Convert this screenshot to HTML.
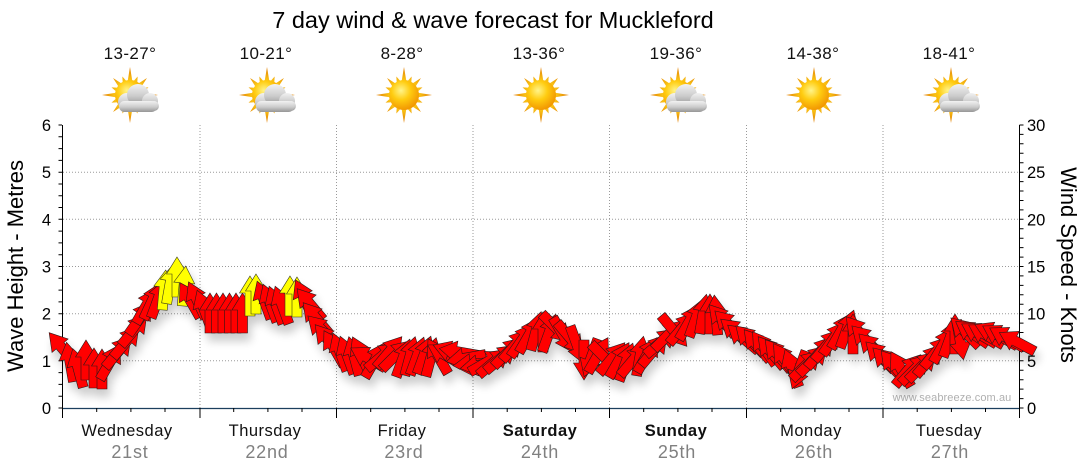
<!DOCTYPE html>
<html><head><meta charset="utf-8"><title>7 day wind &amp; wave forecast for Muckleford</title>
<style>
html,body{margin:0;padding:0;background:#fff;}
svg{display:block;}
text{font-family:"Liberation Sans",Arial,sans-serif;}
</style></head>
<body>
<svg width="1080" height="475" viewBox="0 0 1080 475" xmlns="http://www.w3.org/2000/svg">
<defs>
  <radialGradient id="rayG" cx="0.5" cy="0.5" r="0.5">
    <stop offset="0.45" stop-color="#ffd21a"/>
    <stop offset="1" stop-color="#e07a00"/>
  </radialGradient>
  <radialGradient id="sunG" cx="0.4" cy="0.35" r="0.7">
    <stop offset="0" stop-color="#fff48a"/>
    <stop offset="0.45" stop-color="#ffcc10"/>
    <stop offset="1" stop-color="#f09000"/>
  </radialGradient>
  <linearGradient id="cloudG" x1="0" y1="0" x2="0" y2="1">
    <stop offset="0" stop-color="#f2f2f2"/>
    <stop offset="0.55" stop-color="#cbcbcb"/>
    <stop offset="1" stop-color="#959595"/>
  </linearGradient>
  <g id="sun">
    <polygon fill="url(#rayG)" points="0,-28 2.54,-12.75 7.65,-18.48 7.22,-10.81 16.97,-16.97 10.81,-7.22 18.48,-7.65 12.75,-2.54 28,0 12.75,2.54 18.48,7.65 10.81,7.22 16.97,16.97 7.22,10.81 7.65,18.48 2.54,12.75 0,28 -2.54,12.75 -7.65,18.48 -7.22,10.81 -16.97,16.97 -10.81,7.22 -18.48,7.65 -12.75,2.54 -28,0 -12.75,-2.54 -18.48,-7.65 -10.81,-7.22 -16.97,-16.97 -7.22,-10.81 -7.65,-18.48 -2.54,-12.75"/>
    <circle r="15" fill="url(#sunG)"/>
  </g>
  <g id="cloud">
    <g fill="url(#cloudG)">
      <circle cx="-2" cy="6" r="9"/>
      <circle cx="9" cy="-1" r="11"/>
      <circle cx="21" cy="5" r="8"/>
      <circle cx="25" cy="10" r="5"/>
      <rect x="-10" y="5" width="38" height="11" rx="5.5"/>
    </g>
  </g>
  <polygon id="R" points="0,-20 10.5,-3 5,-3 5,20 -5,20 -5,-3 -10.5,-3" fill="#ff0000" stroke="#2a1a1a" stroke-width="0.6" stroke-linejoin="miter"/>
  <polygon id="Y" points="0,-20 10.5,-3 5,-3 5,20 -5,20 -5,-3 -10.5,-3" fill="#ffff00" stroke="#3a3a1a" stroke-width="0.6" stroke-linejoin="miter"/>
  <filter id="sh" x="-5%" y="-30%" width="110%" height="180%">
    <feGaussianBlur in="SourceAlpha" stdDeviation="4.5"/>
    <feOffset dx="3" dy="8" result="o"/>
    <feComponentTransfer><feFuncA type="linear" slope="0.2"/></feComponentTransfer>
    <feMerge><feMergeNode/><feMergeNode in="SourceGraphic"/></feMerge>
  </filter>
</defs>

<!-- Title -->
<text x="493" y="28" font-size="23.5" text-anchor="middle" fill="#000">7 day wind &amp; wave forecast for Muckleford</text>

<!-- Temps -->
<g font-size="17" text-anchor="middle" fill="#111" letter-spacing="0.4">
  <text x="130" y="59">13-27°</text>
  <text x="266" y="59">10-21°</text>
  <text x="402" y="59">8-28°</text>
  <text x="539" y="59">13-36°</text>
  <text x="676" y="59">19-36°</text>
  <text x="813" y="59">14-38°</text>
  <text x="949" y="59">18-41°</text>
</g>

<!-- Icons -->
<g transform="translate(130,95)"><use href="#sun"/><use href="#cloud" x="-1" y="1"/></g>
<g transform="translate(267,95)"><use href="#sun"/><use href="#cloud" x="-1" y="1"/></g>
<g transform="translate(404,95)"><use href="#sun"/></g>
<g transform="translate(541,95)"><use href="#sun"/></g>
<g transform="translate(678,95)"><use href="#sun"/><use href="#cloud" x="-1" y="1"/></g>
<g transform="translate(814,95)"><use href="#sun"/></g>
<g transform="translate(951,95)"><use href="#sun"/><use href="#cloud" x="-1" y="1"/></g>

<!-- Grid -->
<g stroke="#9a9a9a" stroke-width="1" stroke-dasharray="1,2" fill="none">
  <path d="M63 360.8H1019 M63 313.7H1019 M63 266.5H1019 M63 219.3H1019 M63 172.2H1019"/>
  <path d="M200 125V408 M336.5 125V408 M473 125V408 M609.5 125V408 M746.5 125V408 M883 125V408"/>
</g>

<!-- Left axis -->
<g stroke="#000" stroke-width="1" fill="none">
  <path d="M62.5 125V418"/>
  <path d="M58.5 408H62 M58.5 396.2H62 M58.5 384.4H62 M58.5 372.6H62 M58.5 360.8H62 M58.5 349H62 M58.5 337.2H62 M58.5 325.5H62 M58.5 313.7H62 M58.5 301.9H62 M58.5 290.1H62 M58.5 278.3H62 M58.5 266.5H62 M58.5 254.7H62 M58.5 242.9H62 M58.5 231.1H62 M58.5 219.3H62 M58.5 207.5H62 M58.5 195.7H62 M58.5 184H62 M58.5 172.2H62 M58.5 160.4H62 M58.5 148.6H62 M58.5 136.8H62 M58.5 125H62"/>
</g>
<g font-size="16.5" text-anchor="end" fill="#000">
  <text x="51" y="414">0</text>
  <text x="51" y="366.8">1</text>
  <text x="51" y="319.7">2</text>
  <text x="51" y="272.5">3</text>
  <text x="51" y="225.3">4</text>
  <text x="51" y="178.2">5</text>
  <text x="51" y="131">6</text>
</g>

<!-- Right axis -->
<g stroke="#000" stroke-width="1" fill="none">
  <path d="M1019.5 125V418"/>
  <path d="M1019.5 408H1023.5 M1019.5 398.6H1023.5 M1019.5 389.1H1023.5 M1019.5 379.7H1023.5 M1019.5 370.3H1023.5 M1019.5 360.8H1023.5 M1019.5 351.4H1023.5 M1019.5 342H1023.5 M1019.5 332.5H1023.5 M1019.5 323.1H1023.5 M1019.5 313.7H1023.5 M1019.5 304.2H1023.5 M1019.5 294.8H1023.5 M1019.5 285.4H1023.5 M1019.5 275.9H1023.5 M1019.5 266.5H1023.5 M1019.5 257.1H1023.5 M1019.5 247.6H1023.5 M1019.5 238.2H1023.5 M1019.5 228.8H1023.5 M1019.5 219.3H1023.5 M1019.5 209.9H1023.5 M1019.5 200.5H1023.5 M1019.5 191H1023.5 M1019.5 181.6H1023.5 M1019.5 172.2H1023.5 M1019.5 162.7H1023.5 M1019.5 153.3H1023.5 M1019.5 143.8H1023.5 M1019.5 134.4H1023.5 M1019.5 125H1023.5"/>
</g>
<g font-size="16.5" text-anchor="start" fill="#000">
  <text x="1027" y="414">0</text>
  <text x="1027" y="366.8">5</text>
  <text x="1027" y="319.7">10</text>
  <text x="1027" y="272.5">15</text>
  <text x="1027" y="225.3">20</text>
  <text x="1027" y="178.2">25</text>
  <text x="1027" y="131">30</text>
</g>

<!-- Axis titles -->
<text transform="translate(23,266) rotate(-90)" font-size="22" text-anchor="middle" fill="#000">Wave Height - Metres</text>
<text transform="translate(1061,265) rotate(90)" font-size="22" text-anchor="middle" fill="#000">Wind Speed - Knots</text>

<!-- Watermark -->
<text x="952" y="401" font-size="11" text-anchor="middle" fill="#b0b0b0" letter-spacing="0.1">www.seabreeze.com.au</text>

<!-- Arrows -->
<g filter="url(#sh)">
<use href="#R" transform="translate(62,348) rotate(-40)"/>
<use href="#R" transform="translate(70,362) rotate(-10)"/>
<use href="#R" transform="translate(78,368) rotate(-15)"/>
<use href="#R" transform="translate(86,360) rotate(0)"/>
<use href="#R" transform="translate(94,368) rotate(0)"/>
<use href="#R" transform="translate(102,369) rotate(0)"/>
<use href="#R" transform="translate(110,362) rotate(30)"/>
<use href="#R" transform="translate(118,352) rotate(40)"/>
<use href="#R" transform="translate(126,342) rotate(40)"/>
<use href="#R" transform="translate(134,330) rotate(40)"/>
<use href="#R" transform="translate(140,318) rotate(35)"/>
<use href="#R" transform="translate(146,306) rotate(30)"/>
<use href="#R" transform="translate(152,301) rotate(25)"/>
<use href="#R" transform="translate(158,299) rotate(20)"/>
<use href="#Y" transform="translate(164,290) rotate(5)"/>
<use href="#Y" transform="translate(170,284) rotate(10)"/>
<use href="#Y" transform="translate(177,277) rotate(0)"/>
<use href="#Y" transform="translate(184,286) rotate(5)"/>
<use href="#R" transform="translate(190,300) rotate(-30)"/>
<use href="#R" transform="translate(197,300) rotate(-25)"/>
<use href="#R" transform="translate(204,309) rotate(-20)"/>
<use href="#R" transform="translate(210,313) rotate(0)"/>
<use href="#R" transform="translate(216.5,313) rotate(0)"/>
<use href="#R" transform="translate(223,313) rotate(0)"/>
<use href="#R" transform="translate(229.5,313) rotate(0)"/>
<use href="#R" transform="translate(236,313) rotate(0)"/>
<use href="#R" transform="translate(242.5,313) rotate(0)"/>
<use href="#Y" transform="translate(250,296) rotate(0)"/>
<use href="#Y" transform="translate(256,294) rotate(0)"/>
<use href="#R" transform="translate(264,300) rotate(-20)"/>
<use href="#R" transform="translate(270,303) rotate(-20)"/>
<use href="#R" transform="translate(276,305) rotate(-20)"/>
<use href="#R" transform="translate(282,305) rotate(-20)"/>
<use href="#Y" transform="translate(290,296) rotate(0)"/>
<use href="#Y" transform="translate(297,297) rotate(0)"/>
<use href="#R" transform="translate(304,298) rotate(-25)"/>
<use href="#R" transform="translate(310,304) rotate(-40)"/>
<use href="#R" transform="translate(316,318) rotate(-40)"/>
<use href="#R" transform="translate(322,330) rotate(-45)"/>
<use href="#R" transform="translate(328,340) rotate(-40)"/>
<use href="#R" transform="translate(334,348) rotate(-30)"/>
<use href="#R" transform="translate(340,352) rotate(-20)"/>
<use href="#R" transform="translate(347,355) rotate(-20)"/>
<use href="#R" transform="translate(354,356) rotate(-15)"/>
<use href="#R" transform="translate(361,355) rotate(-25)"/>
<use href="#R" transform="translate(368,358) rotate(-60)"/>
<use href="#R" transform="translate(375,360) rotate(30)"/>
<use href="#R" transform="translate(382,356) rotate(50)"/>
<use href="#R" transform="translate(389,352) rotate(40)"/>
<use href="#R" transform="translate(396,355) rotate(45)"/>
<use href="#R" transform="translate(403,358) rotate(20)"/>
<use href="#R" transform="translate(410,356) rotate(15)"/>
<use href="#R" transform="translate(417,356) rotate(20)"/>
<use href="#R" transform="translate(424,355) rotate(20)"/>
<use href="#R" transform="translate(431,357) rotate(15)"/>
<use href="#R" transform="translate(438,356) rotate(-30)"/>
<use href="#R" transform="translate(445,355) rotate(-60)"/>
<use href="#R" transform="translate(452,352) rotate(-70)"/>
<use href="#R" transform="translate(459,352) rotate(-80)"/>
<use href="#R" transform="translate(466,358) rotate(-100)"/>
<use href="#R" transform="translate(473,364) rotate(-95)"/>
<use href="#R" transform="translate(480,365) rotate(-100)"/>
<use href="#R" transform="translate(487,362) rotate(60)"/>
<use href="#R" transform="translate(494,362) rotate(50)"/>
<use href="#R" transform="translate(501,358) rotate(50)"/>
<use href="#R" transform="translate(508,352) rotate(45)"/>
<use href="#R" transform="translate(515,345) rotate(40)"/>
<use href="#R" transform="translate(522,340) rotate(35)"/>
<use href="#R" transform="translate(529,335) rotate(30)"/>
<use href="#R" transform="translate(536,331) rotate(15)"/>
<use href="#R" transform="translate(543,332) rotate(0)"/>
<use href="#R" transform="translate(549,333) rotate(20)"/>
<use href="#R" transform="translate(556,328) rotate(135)"/>
<use href="#R" transform="translate(563,335) rotate(150)"/>
<use href="#R" transform="translate(570,338) rotate(140)"/>
<use href="#R" transform="translate(577,345) rotate(160)"/>
<use href="#R" transform="translate(584,360) rotate(180)"/>
<use href="#R" transform="translate(591,358) rotate(200)"/>
<use href="#R" transform="translate(598,355) rotate(30)"/>
<use href="#R" transform="translate(605,358) rotate(135)"/>
<use href="#R" transform="translate(612,358) rotate(40)"/>
<use href="#R" transform="translate(619,360) rotate(30)"/>
<use href="#R" transform="translate(626,362) rotate(20)"/>
<use href="#R" transform="translate(633,360) rotate(40)"/>
<use href="#R" transform="translate(640,356) rotate(10)"/>
<use href="#R" transform="translate(647,355) rotate(30)"/>
<use href="#R" transform="translate(654,350) rotate(40)"/>
<use href="#R" transform="translate(661,342) rotate(50)"/>
<use href="#R" transform="translate(668,335) rotate(45)"/>
<use href="#R" transform="translate(674,331) rotate(140)"/>
<use href="#R" transform="translate(682,328) rotate(40)"/>
<use href="#R" transform="translate(689,322) rotate(30)"/>
<use href="#R" transform="translate(696,318) rotate(20)"/>
<use href="#R" transform="translate(703,314) rotate(10)"/>
<use href="#R" transform="translate(710,314) rotate(0)"/>
<use href="#R" transform="translate(716,315) rotate(-5)"/>
<use href="#R" transform="translate(722,320) rotate(-40)"/>
<use href="#R" transform="translate(729,325) rotate(-45)"/>
<use href="#R" transform="translate(736,332) rotate(-50)"/>
<use href="#R" transform="translate(743,338) rotate(-50)"/>
<use href="#R" transform="translate(750,340) rotate(-45)"/>
<use href="#R" transform="translate(757,345) rotate(-40)"/>
<use href="#R" transform="translate(764,348) rotate(-35)"/>
<use href="#R" transform="translate(771,352) rotate(-40)"/>
<use href="#R" transform="translate(778,355) rotate(-40)"/>
<use href="#R" transform="translate(785,360) rotate(-35)"/>
<use href="#R" transform="translate(792,368) rotate(-20)"/>
<use href="#R" transform="translate(799,370) rotate(200)"/>
<use href="#R" transform="translate(806,365) rotate(45)"/>
<use href="#R" transform="translate(813,360) rotate(45)"/>
<use href="#R" transform="translate(820,352) rotate(40)"/>
<use href="#R" transform="translate(827,345) rotate(40)"/>
<use href="#R" transform="translate(834,338) rotate(35)"/>
<use href="#R" transform="translate(841,331) rotate(30)"/>
<use href="#R" transform="translate(847,329) rotate(20)"/>
<use href="#R" transform="translate(853,334) rotate(0)"/>
<use href="#R" transform="translate(859,332) rotate(-40)"/>
<use href="#R" transform="translate(866,340) rotate(-45)"/>
<use href="#R" transform="translate(873,348) rotate(-45)"/>
<use href="#R" transform="translate(880,356) rotate(-45)"/>
<use href="#R" transform="translate(887,362) rotate(-45)"/>
<use href="#R" transform="translate(894,366) rotate(-40)"/>
<use href="#R" transform="translate(901,369) rotate(-30)"/>
<use href="#R" transform="translate(908,370) rotate(40)"/>
<use href="#R" transform="translate(915,369) rotate(45)"/>
<use href="#R" transform="translate(922,366) rotate(45)"/>
<use href="#R" transform="translate(929,360) rotate(40)"/>
<use href="#R" transform="translate(936,352) rotate(40)"/>
<use href="#R" transform="translate(943,345) rotate(30)"/>
<use href="#R" transform="translate(950,338) rotate(20)"/>
<use href="#R" transform="translate(955,334) rotate(0)"/>
<use href="#R" transform="translate(960,340) rotate(170)"/>
<use href="#R" transform="translate(965,332) rotate(-45)"/>
<use href="#R" transform="translate(972,333) rotate(-55)"/>
<use href="#R" transform="translate(979,334) rotate(-60)"/>
<use href="#R" transform="translate(986,335) rotate(-60)"/>
<use href="#R" transform="translate(993,333) rotate(-65)"/>
<use href="#R" transform="translate(1000,336) rotate(-60)"/>
<use href="#R" transform="translate(1007,338) rotate(-60)"/>
<use href="#R" transform="translate(1017,342) rotate(-62)"/>
</g>

<!-- Bottom axis -->
<path d="M62.5 408.5H1019.5" stroke="#1c3f5e" stroke-width="1.3" fill="none"/>
<g stroke="#000" stroke-width="1" fill="none">
  <path d="M62.5 408V418 M200 408V418 M336.5 408V418 M473 408V418 M609.5 408V418 M746.5 408V418 M883 408V418 M1019.5 408V418"/>
  <path d="M96.7 408V412 M130.9 408V412 M165 408V412 M233.7 408V412 M267.9 408V412 M302 408V412 M370.7 408V412 M404.9 408V412 M439 408V412 M507.2 408V412 M541.4 408V412 M575.5 408V412 M643.7 408V412 M677.9 408V412 M712 408V412 M780.7 408V412 M814.9 408V412 M849 408V412 M917.2 408V412 M951.4 408V412 M985.5 408V412"/>
</g>

<!-- Day labels -->
<g font-size="16.5" text-anchor="middle" fill="#111" letter-spacing="0.5">
  <text x="127" y="436">Wednesday</text>
  <text x="265" y="436">Thursday</text>
  <text x="402" y="436">Friday</text>
  <text x="540" y="436" font-weight="bold">Saturday</text>
  <text x="676" y="436" font-weight="bold">Sunday</text>
  <text x="811" y="436">Monday</text>
  <text x="949" y="436">Tuesday</text>
</g>
<g font-size="18" text-anchor="middle" fill="#808080" letter-spacing="0.8">
  <text x="130" y="458">21st</text>
  <text x="267" y="458">22nd</text>
  <text x="404" y="458">23rd</text>
  <text x="540" y="458">24th</text>
  <text x="677" y="458">25th</text>
  <text x="814" y="458">26th</text>
  <text x="950" y="458">27th</text>
</g>
</svg>
</body></html>
